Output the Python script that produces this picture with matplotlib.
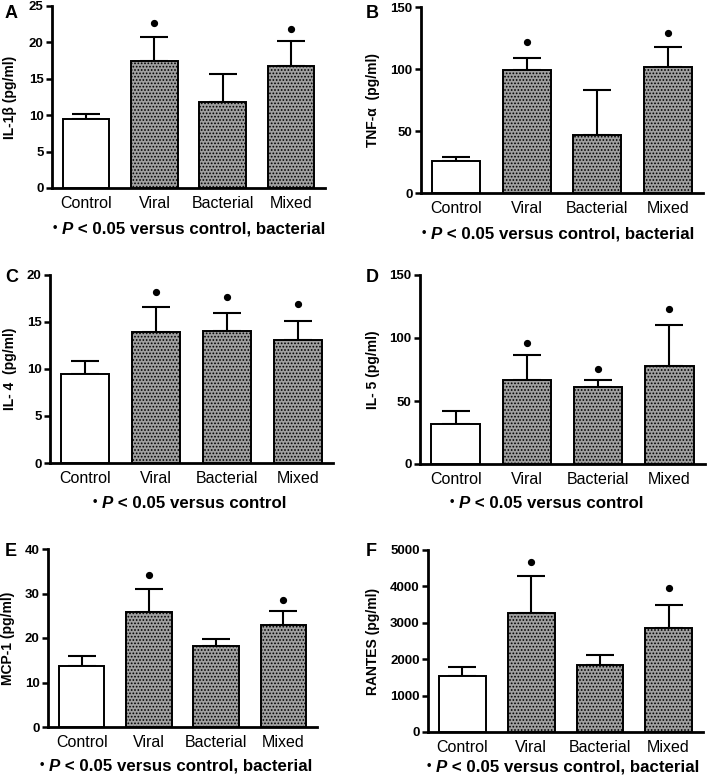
import matplotlib
matplotlib.use("Agg")
import matplotlib.pyplot as plt
import numpy as np

plt.rcParams['font.family'] = ['Liberation Sans', 'DejaVu Sans']
plt.rcParams['hatch.color'] = '#2e2e2e'
plt.rcParams['hatch.linewidth'] = 0.8

categories = ["Control", "Viral", "Bacterial", "Mixed"]

# Panel A: IL-1beta
il1b_mean = [9.5, 17.4, 11.8, 16.8]
il1b_err = [0.7, 3.4, 3.9, 3.4]
il1b_sig = [None, 22.6, None, 21.9]

# Panel B: TNF-alpha
tnf_mean = [26, 99.5, 47, 102]
tnf_err = [3, 9.5, 36, 16]
tnf_sig = [None, 121.7, None, 129]

# Panel C: IL-4
il4_mean = [9.45, 13.9, 14.05, 13.1]
il4_err = [1.4, 2.7, 1.95, 2.05]
il4_sig = [None, 18.2, 17.7, 16.9]

# Panel D: IL-5
il5_mean = [31.7, 66.9, 60.8, 77.8]
il5_err = [10.6, 19.9, 6.1, 32.2]
il5_sig = [None, 96, 75.7, 122.7]

# Panel E: MCP-1
mcp_mean = [13.8, 25.9, 18.2, 23.0]
mcp_err = [2.05, 5.0, 1.5, 3.1]
mcp_sig = [None, 34.1, None, 28.6]

# Panel F: RANTES
rantes_mean = [1536, 3282, 1828, 2861]
rantes_err = [237, 996, 292, 622]
rantes_sig = [None, 4680, None, 3949]

panels = [
    dict(letter="A", ylabel="IL-1β (pg/ml)", mean=il1b_mean, err=il1b_err, sig=il1b_sig,
         ymax=25, ticks=[0, 5, 10, 15, 20, 25],
         note=" versus control, bacterial",
         box=(52, 325, 6, 188), letter_xy=(5, 14), ylab_x=10, note_xy=(53, 234)),
    dict(letter="B", ylabel="TNF-α  (pg/ml)", mean=tnf_mean, err=tnf_err, sig=tnf_sig,
         ymax=150, ticks=[0, 50, 100, 150],
         note=" versus control, bacterial",
         box=(421, 703, 7, 193), letter_xy=(366, 14), ylab_x=373, note_xy=(422, 239)),
    dict(letter="C", ylabel="IL- 4  (pg/ml)", mean=il4_mean, err=il4_err, sig=il4_sig,
         ymax=20, ticks=[0, 5, 10, 15, 20],
         note=" versus control",
         box=(50, 333, 275, 463), letter_xy=(5, 277), ylab_x=10, note_xy=(93, 508)),
    dict(letter="D", ylabel="IL- 5 (pg/ml)", mean=il5_mean, err=il5_err, sig=il5_sig,
         ymax=150, ticks=[0, 50, 100, 150],
         note=" versus control",
         box=(420, 705, 275, 464), letter_xy=(366, 277), ylab_x=373, note_xy=(450, 508)),
    dict(letter="E", ylabel="MCP-1 (pg/ml)", mean=mcp_mean, err=mcp_err, sig=mcp_sig,
         ymax=40, ticks=[0, 10, 20, 30, 40],
         note=" versus control, bacterial",
         box=(48, 317, 549, 727), letter_xy=(5, 552), ylab_x=8, note_xy=(40, 771)),
    dict(letter="F", ylabel="RANTES (pg/ml)", mean=rantes_mean, err=rantes_err, sig=rantes_sig,
         ymax=5000, ticks=[0, 1000, 2000, 3000, 4000, 5000],
         note=" versus control, bacterial",
         box=(428, 703, 550, 732), letter_xy=(366, 552), ylab_x=373, note_xy=(427, 772)),
]

W, H = 709, 776
fig = plt.figure(figsize=(W / 100, H / 100), dpi=100)

for p in panels:
    l, r, t, b = p["box"]
    ax = fig.add_axes([l / W, 1 - b / H, (r - l) / W, (b - t) / H])
    x = np.arange(len(categories))
    colors = ['white', '#a0a0a0', '#a0a0a0', '#a0a0a0']
    hatches = ['', '.....', '.....', '.....']
    bars = ax.bar(x, p["mean"], width=0.68, color=colors, edgecolor='black',
                  linewidth=1.4, zorder=3)
    for bar, h in zip(bars, hatches):
        bar.set_hatch(h)
    ax.errorbar(x, p["mean"], yerr=[np.zeros(len(x)), p["err"]], fmt='none',
                ecolor='black', elinewidth=1.5, capsize=10, capthick=1.5, zorder=2)
    for xi, s in zip(x, p["sig"]):
        if s is not None:
            ax.plot(xi, s, 'o', color='black', markersize=4.2, zorder=4, clip_on=False)
    ax.set_xlim(-0.5, 3.5)
    ax.set_ylim(0, p["ymax"])
    ax.set_yticks(p["ticks"])
    ax.set_yticklabels([str(v) for v in p["ticks"]], fontsize=9.5, fontweight='bold')
    ax.set_xticks(x)
    ax.set_xticklabels(categories, fontsize=11.5)
    ax.tick_params(axis='x', length=0, pad=6)
    ax.tick_params(axis='y', length=4, width=1.8, pad=2)
    for s in ['top', 'right']:
        ax.spines[s].set_visible(False)
    for s in ['left', 'bottom']:
        ax.spines[s].set_linewidth(2)
    fig.text(p["letter_xy"][0] / W, 1 - p["letter_xy"][1] / H, p["letter"],
             fontsize=13, fontweight='bold', ha='left', va='center')
    fig.text(p["ylab_x"] / W, 1 - ((t + b) / 2) / H, p["ylabel"], rotation=90,
             fontsize=10, fontweight='bold', ha='center', va='center')
    nx, ny = p["note_xy"]
    t0 = fig.text(nx / W, 1 - ny / H, "•", fontsize=9, fontweight='bold',
                  ha='left', va='bottom')
    tp = ax.annotate("P", xy=(1, 0), xycoords=t0, xytext=(3, -2), textcoords='offset points',
                     fontsize=12.2, fontweight='bold', fontstyle='italic', ha='left', va='bottom',
                     annotation_clip=False)
    ax.annotate(" < 0.05" + p["note"], xy=(1, 0), xycoords=tp, fontsize=12.2,
                fontweight='bold', ha='left', va='bottom', annotation_clip=False)

fig.savefig("out.png", dpi=100)
